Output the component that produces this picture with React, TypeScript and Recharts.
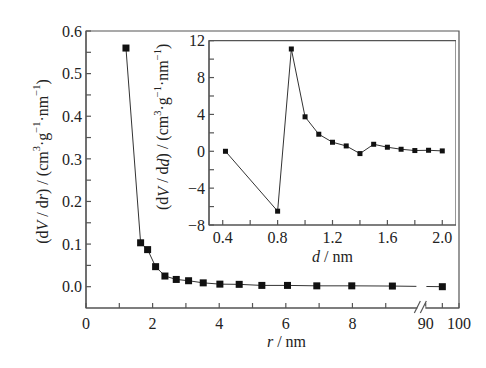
import React from "react";
import { LineChart, Line, XAxis, YAxis, ReferenceArea, ReferenceDot } from "recharts";

// main curve: pore radius r (nm) vs dV/dr
const mainR = [1.2, 1.64, 1.85, 2.09, 2.37, 2.71, 3.08, 3.52, 4.02, 4.6, 5.28, 6.05, 6.93, 7.98, 9.2, 95];
const mainV = [0.56, 0.103, 0.087, 0.047, 0.025, 0.017, 0.014, 0.009, 0.006, 0.0055, 0.003, 0.003, 0.002, 0.002, 0.0015, 0.0];

// inset: pore diameter d (nm) vs dV/dd
const insetD = [0.42, 0.8, 0.9, 1.0, 1.1, 1.2, 1.3, 1.4, 1.5, 1.6, 1.7, 1.8, 1.9, 2.0];
const insetV = [0, -6.5, 11.1, 3.74, 1.85, 0.98, 0.58, -0.25, 0.76, 0.44, 0.22, 0.08, 0.11, 0.04];

const xTicksR = [0, 1, 2, 3, 4, 5, 6, 7, 8, 9, 90, 95, 100];
const xLabelsR = [0, 2, 4, 6, 8, 90, 100];
const yTicksMain = [0, 0.05, 0.1, 0.15, 0.2, 0.25, 0.3, 0.35, 0.4, 0.45, 0.5, 0.55, 0.6];
const yLabelsMain = [0, 0.1, 0.2, 0.3, 0.4, 0.5, 0.6];
const xTicksInset = [0.4, 0.6, 0.8, 1.0, 1.2, 1.4, 1.6, 1.8, 2.0];
const xLabelsInset = [0.4, 0.8, 1.2, 1.6, 2.0];
const yTicksInset = [-8, -6, -4, -2, 0, 2, 4, 6, 8, 10, 12];
const yLabelsInset = [-8, -4, 0, 4, 8, 12];

// broken x axis: 0..10 linear, then 90..100 squeezed into one unit
const BREAK_AT = 10;
const toU = (r: number) => (r <= BREAK_AT ? r : 10.2 + (r - 90) / 10);
const fromU = (u: number) => (u <= BREAK_AT ? u : Math.round(90 + (u - 10.2) * 10));

const mainData = mainR.map((r, i) => ({ u: toU(r), v: mainV[i] }));
const beforeBreak = mainData.filter((_, i) => mainR[i] < BREAK_AT);
const acrossBreak = mainData.slice(beforeBreak.length - 1);
const insetData = insetD.map((d, i) => ({ d, v: insetV[i] }));

const FONT = "'Liberation Serif', 'Times New Roman', Times, serif";
const AX = "#555";
const INK = "#222";
const FS = 16;
const tickStyle = { fontSize: FS, fill: INK, style: { fontFamily: FONT } };

const near = (a: number, list: number[]) => list.some((b) => Math.abs(a - b) < 1e-6);
const minus = (s: string) => s.replace("-", "\u2212");

const sq = (size: number) => (p: any) => (
  <rect key={`d${p.index}`} x={p.cx - size / 2} y={p.cy - size / 2} width={size} height={size} fill="#111" />
);

const Sup = ({ children }: { children: React.ReactNode }) => (
  <tspan baselineShift="super" fontSize={10.5}>{children}</tspan>
);

const yTitle = (v: string, den: string, dx: number, dy: number) => (props: any) => {
  const vb = props.viewBox;
  const cx = vb.x + dx;
  const cy = vb.y + vb.height / 2 + dy;
  return (
    <text x={cx} y={cy} transform={`rotate(-90 ${cx} ${cy})`} textAnchor="middle" dominantBaseline="central"
      style={{ fontFamily: FONT }} fontSize={FS} fill={INK}>
      (d<tspan fontStyle="italic">{v}</tspan> / d<tspan fontStyle="italic">{den}</tspan>) / (cm<Sup>3</Sup>·g<Sup>−1</Sup>·nm<Sup>−1</Sup>)
    </text>
  );
};

const xTitle = (sym: string, dx: number, dy: number) => (props: any) => {
  const vb = props.viewBox;
  return (
    <text x={vb.x + vb.width / 2 + dx} y={vb.y + dy} textAnchor="middle" style={{ fontFamily: FONT }} fontSize={FS} fill={INK}>
      <tspan fontStyle="italic">{sym}</tspan> / nm
    </text>
  );
};

const BreakMark = (p: any) => (
  <g>
    <rect x={p.cx - 4} y={p.cy - 2} width={8} height={4} fill="#fff" />
    <line x1={p.cx - 7} y1={p.cy + 5} x2={p.cx - 1} y2={p.cy - 7} stroke={AX} strokeWidth={1.2} />
    <line x1={p.cx - 1} y1={p.cy + 5} x2={p.cx + 5} y2={p.cy - 7} stroke={AX} strokeWidth={1.2} />
  </g>
);

export default function App() {
  return (
    <div style={{ position: "absolute", left: 0, top: 0, width: 486, height: 368, background: "#fff", fontFamily: FONT }}>
      <div style={{ position: "absolute", left: 0, top: 0 }}>
        <LineChart width={486} height={368} data={mainData} margin={{ top: 31, right: 27, bottom: 30, left: 26 }}>
          <ReferenceArea x1={0} x2={toU(100)} y1={-0.05} y2={0.6} fill="none" stroke={AX} strokeWidth={1.2} ifOverflow="visible" />
          <XAxis dataKey="u" type="number" domain={[0, toU(100)]} ticks={xTicksR.map(toU)} interval={0}
            tickFormatter={(u: number) => (near(fromU(u), xLabelsR) ? String(fromU(u)) : "")}
            tick={tickStyle} tickSize={-5} tickMargin={15} height={30}
            axisLine={{ stroke: AX, strokeWidth: 1.2 }} tickLine={{ stroke: AX, strokeWidth: 1.2 }}
            label={xTitle("r", 14, 39)} />
          <YAxis dataKey="v" type="number" domain={[-0.05, 0.6]} ticks={yTicksMain} interval={0}
            tickFormatter={(v: number) => (near(v, yLabelsMain) ? v.toFixed(1) : "")}
            tick={tickStyle} tickSize={-5} tickMargin={9} width={60}
            axisLine={{ stroke: AX, strokeWidth: 1.2 }} tickLine={{ stroke: AX, strokeWidth: 1.2 }}
            label={yTitle("V", "r", 16, -8)} />
          <Line data={acrossBreak} dataKey="v" type="linear" stroke="#333" strokeWidth={1}
            strokeDasharray="24 10 40" dot={false} isAnimationActive={false} />
          <Line data={mainData} dataKey="v" type="linear" stroke="transparent" dot={sq(7)} isAnimationActive={false} />
          <Line data={beforeBreak} dataKey="v" type="linear" stroke="#333" strokeWidth={1} dot={false} isAnimationActive={false} />
          <ReferenceDot x={10.07} y={-0.05} r={0} shape={BreakMark} ifOverflow="visible" />
        </LineChart>
      </div>
      <div style={{ position: "absolute", left: 150, top: 20 }}>
        <LineChart width={306} height={250} data={insetData} margin={{ top: 20.7, right: 0, bottom: 20, left: 29 }}>
          <ReferenceArea x1={0.3} x2={2.1} y1={-8} y2={12} fill="#fff" stroke={AX} strokeWidth={1.2} ifOverflow="visible" />
          <XAxis dataKey="d" type="number" domain={[0.3, 2.1]} ticks={xTicksInset} interval={0}
            tickFormatter={(d: number) => (near(d, xLabelsInset) ? d.toFixed(1) : "")}
            tick={tickStyle} tickSize={-5} tickMargin={12} height={25}
            axisLine={{ stroke: AX, strokeWidth: 1.2 }} tickLine={{ stroke: AX, strokeWidth: 1.2 }}
            label={xTitle("d", 0, 37)} />
          <YAxis dataKey="v" type="number" domain={[-8, 12]} ticks={yTicksInset} interval={0}
            tickFormatter={(v: number) => (near(v, yLabelsInset) ? minus(String(v)) : "")}
            tick={tickStyle} tickSize={-5} tickMargin={9} width={30}
            axisLine={{ stroke: AX, strokeWidth: 1.2 }} tickLine={{ stroke: AX, strokeWidth: 1.2 }}
            label={yTitle("V", "d", -16, -6)} />
          <Line dataKey="v" type="linear" stroke="#333" strokeWidth={1} dot={sq(5)} isAnimationActive={false} />
        </LineChart>
      </div>
    </div>
  );
}
